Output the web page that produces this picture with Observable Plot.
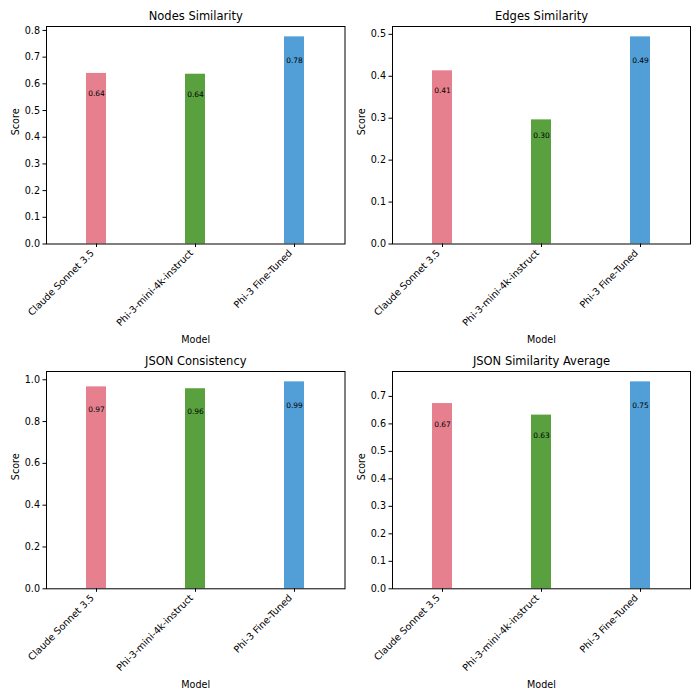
<!DOCTYPE html>
<html>
<head>
<meta charset="utf-8">
<script src="https://cdn.jsdelivr.net/npm/d3@7"></script>
<script src="https://cdn.jsdelivr.net/npm/@observablehq/plot@0.6"></script>
<style>
  html, body { margin: 0; padding: 0; background: #fff; }
  #root { position: relative; width: 700px; height: 700px; font-family: "DejaVu Sans", sans-serif; }
  .panel { position: absolute; width: 350px; height: 350px; }
</style>
</head>
<body>
<div id="root"></div>
<script>
const models = ["Claude Sonnet 3.5", "Phi-3-mini-4k-instruct", "Phi-3 Fine-Tuned"];
const colors = ["#e6808f", "#59a13f", "#529fd7"];

const titles = ["Nodes Similarity", "Edges Similarity", "JSON Consistency", "JSON Similarity Average"];
const nodesValues = [0.639, 0.636, 0.776];
const edgesValues = [0.413, 0.296, 0.494];
const consistencyValues = [0.966, 0.957, 0.990];
const averageValues = [0.674, 0.632, 0.753];

const nodesTicks = [0, 0.1, 0.2, 0.3, 0.4, 0.5, 0.6, 0.7, 0.8];
const edgesTicks = [0, 0.1, 0.2, 0.3, 0.4, 0.5];
const consistencyTicks = [0, 0.2, 0.4, 0.6, 0.8, 1.0];
const averageTicks = [0, 0.1, 0.2, 0.3, 0.4, 0.5, 0.6, 0.7];

const panels = [
  {title: titles[0], values: nodesValues, ticks: nodesTicks, left: 0, top: 0, m: {l: 46, r: 5.5, t: 26, b: 106.5}},
  {title: titles[1], values: edgesValues, ticks: edgesTicks, left: 350, top: 0, m: {l: 42, r: 10, t: 26, b: 106.5}},
  {title: titles[2], values: consistencyValues, ticks: consistencyTicks, left: 0, top: 350, m: {l: 46, r: 5.5, t: 21, b: 111.7}},
  {title: titles[3], values: averageValues, ticks: averageTicks, left: 350, top: 350, m: {l: 42, r: 10, t: 21, b: 111.7}}
];

const root = document.getElementById("root");

for (const p of panels) {
  const data = models.map((m, i) => ({model: m, value: p.values[i]}));
  const maxV = d3.max(p.values);
  const chart = Plot.plot({
    width: 350,
    height: 350,
    marginLeft: p.m.l,
    marginRight: p.m.r,
    marginTop: p.m.t,
    marginBottom: p.m.b,
    style: {fontFamily: "DejaVu Sans, sans-serif", fontSize: "9.6px", color: "#000", background: "transparent", overflow: "visible"},
    x: {domain: models, paddingInner: 0.8, paddingOuter: 0.4, label: null},
    y: {domain: [0, maxV * 1.05], label: null},
    color: {domain: models, range: colors},
    marks: [
      Plot.barY(data, {x: "model", y: "value", fill: "model"}),
      Plot.text(data, {x: "model", y: d => d.value * 0.9, text: d => d.value.toFixed(2), lineAnchor: "top", fontSize: 7.5, fill: "#000"}),
      Plot.frame({stroke: "#000", strokeWidth: 1}),
      Plot.axisY({ticks: p.ticks, tickFormat: d3.format(".1f"), tickSize: 3.5, tickPadding: 3, label: null}),
      Plot.axisX({tickRotate: -45, tickSize: 3.5, tickPadding: 2, label: null, text: null}),
      Plot.axisX({tickRotate: -45, tickSize: 0, tickPadding: 5.5, label: null, dx: -4, dy: 2}),
      Plot.text([p.title], {frameAnchor: "top", dy: -10, lineAnchor: "middle", fontSize: 11.5, fill: "#000"}),
      Plot.text(["Score"], {frameAnchor: "left", dx: -31, rotate: -90, lineAnchor: "middle", fontSize: 9.6, fill: "#000"}),
      Plot.text(["Model"], {frameAnchor: "bottom", dy: 96, lineAnchor: "middle", fontSize: 9.6, fill: "#000"})
    ]
  });
  const div = document.createElement("div");
  div.className = "panel";
  div.style.left = p.left + "px";
  div.style.top = p.top + "px";
  div.appendChild(chart);
  root.appendChild(div);
}
</script>
</body>
</html>
